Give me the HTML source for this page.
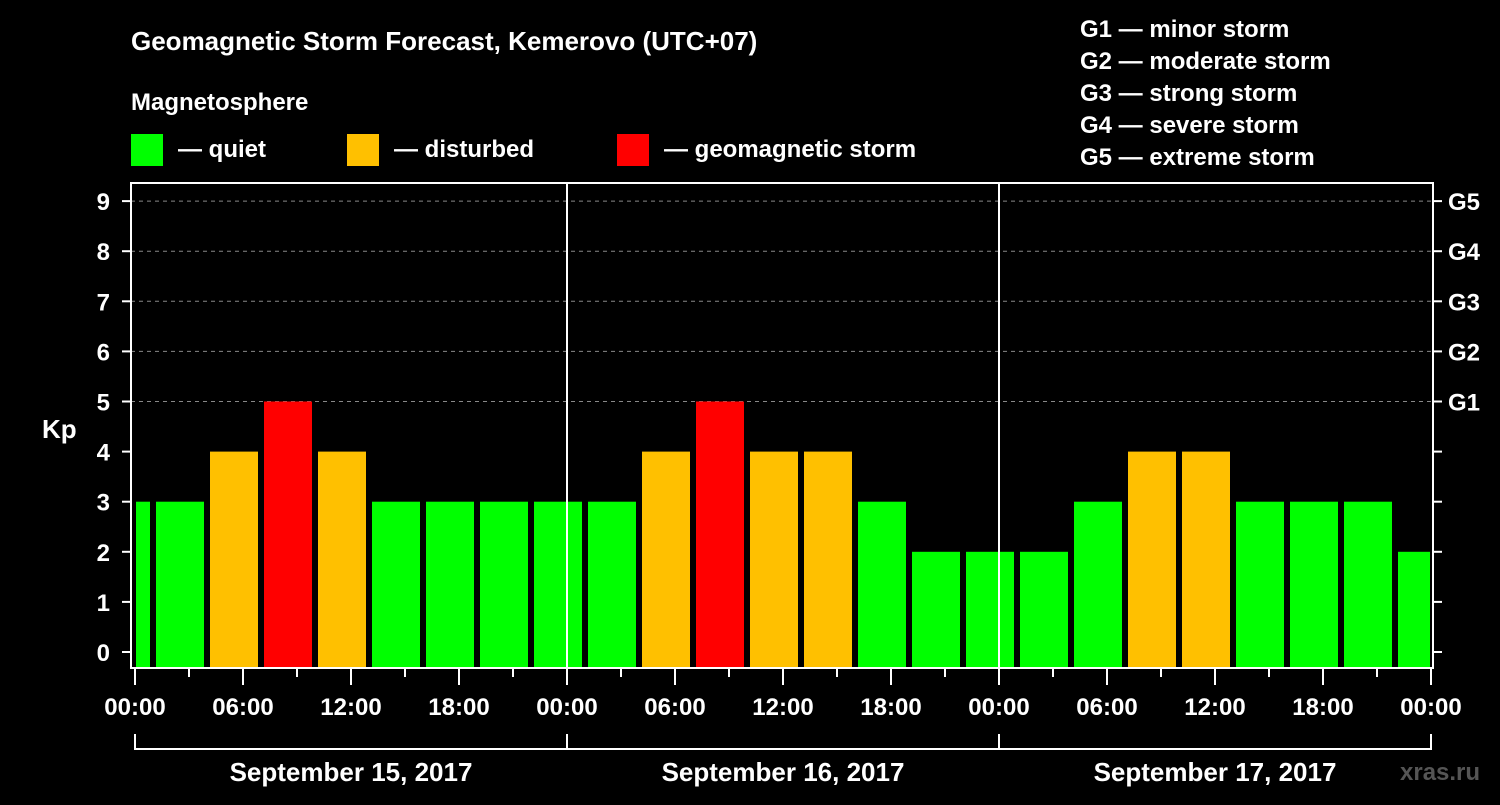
<!DOCTYPE html>
<html><head><meta charset="utf-8"><style>
body{margin:0;background:#000;}
svg text{font-family:"Liberation Sans",sans-serif;font-weight:bold;fill:#fff;}
</style></head><body>
<svg id="chart" width="1500" height="800" xmlns="http://www.w3.org/2000/svg">
<rect width="1500" height="800" fill="#000"/>
<text x="131" y="50" font-size="26">Geomagnetic Storm Forecast, Kemerovo (UTC+07)</text>
<text x="131" y="110" font-size="24">Magnetosphere</text>
<g>
<rect x="131" y="134" width="32" height="32" fill="#00ff00"/>
<text x="178" y="157" font-size="24">— quiet</text>
<rect x="347" y="134" width="32" height="32" fill="#ffc000"/>
<text x="394" y="157" font-size="24">— disturbed</text>
<rect x="617" y="134" width="32" height="32" fill="#ff0000"/>
<text x="664" y="157" font-size="24">— geomagnetic storm</text>
</g>
<g font-size="24">
<text x="1080" y="37">G1 — minor storm</text>
<text x="1080" y="69">G2 — moderate storm</text>
<text x="1080" y="101">G3 — strong storm</text>
<text x="1080" y="133">G4 — severe storm</text>
<text x="1080" y="165">G5 — extreme storm</text>
</g>
<text x="42" y="438" font-size="26">Kp</text>
<text x="1400" y="780" font-size="24" fill="#555" style="fill:#555">xras.ru</text>
<g id="plot"></g>
</svg>
<script>
const kpValues=[3,3,4,5,4,3,3,3,3,3,4,5,4,4,3,2,2,2,3,4,4,3,3,3,2];
const startHour=-2;
const stepHours=3;
const yTicks=[0,1,2,3,4,5,6,7,8,9];
const gLabels=['G1','G2','G3','G4','G5'];
const gLevels=[5,6,7,8,9];
const xTickLabels=['00:00','06:00','12:00','18:00','00:00','06:00','12:00','18:00','00:00','06:00','12:00','18:00','00:00'];
const dateLabels=['September 15, 2017','September 16, 2017','September 17, 2017'];

const X0=135,PXH=18,L=131,R=1433,T=183,B=668;
const xs=h=>X0+h*PXH;
const ys=v=>652-v*50.1;
const NS='http://www.w3.org/2000/svg';
const plot=document.getElementById('plot');
function mk(tag,attrs,parent){const e=document.createElementNS(NS,tag);for(const k in attrs)e.setAttribute(k,attrs[k]);(parent||plot).appendChild(e);return e;}

// gridlines
yTicks.forEach(v=>{
 if(v>=5){const g=mk('line',{x1:L,x2:R,y1:ys(v),y2:ys(v),stroke:'#888','stroke-dasharray':'4,4','stroke-width':1});
 
 }
 const t=mk('line',{x1:122,x2:L,y1:ys(v),y2:ys(v),stroke:'#fff','stroke-width':2});
 
 
 const rt=mk('line',{x1:R,x2:1442,y1:ys(v),y2:ys(v),stroke:'#fff','stroke-width':2});
 
 
 const lb=mk('text',{x:110,y:ys(v)+9,'font-size':24,'text-anchor':'end'});lb.textContent=v;
 
 
});
gLevels.forEach((v,i)=>{const t=mk('text',{x:1448,y:ys(v)+9,'font-size':24});t.textContent=gLabels[i];
 
 });

// bars
kpValues.forEach((v,i)=>{
 const h0=startHour+i*stepHours;
 let x1=xs(h0)+3,x2=xs(h0+stepHours)-3;
 x1=Math.max(x1,X0+1);x2=Math.min(x2,R-3);
 const c=v>=5?'#ff0000':(v>=4?'#ffc000':'#00ff00');
 const b=mk('rect',{x:x1,y:ys(v),width:x2-x1,height:B-ys(v),fill:c});
 
 
});

// day separators
[1,2].forEach(d=>{const l=mk('line',{x1:xs(24*d),x2:xs(24*d),y1:T,y2:B,stroke:'#fff','stroke-width':2});
 
 });

// frame
const fr=mk('rect',{x:L,y:T,width:R-L,height:B-T,fill:'none',stroke:'#fff','stroke-width':2});



// x ticks
for(let h=0;h<=72;h+=3){
 const major=h%6===0;
 const t=mk('line',{x1:xs(h),x2:xs(h),y1:B,y2:major?685:677,stroke:'#fff','stroke-width':2});
 
 
}
xTickLabels.forEach((s,i)=>{const t=mk('text',{x:xs(i*6),y:715,'font-size':24,'text-anchor':'middle'});t.textContent=s;
 
 });
// date brackets
const br=mk('path',{d:`M${xs(0)} 734V749H${xs(72)}V734 M${xs(24)} 734V749 M${xs(48)} 734V749`,stroke:'#fff','stroke-width':2,fill:'none'});


dateLabels.forEach((s,i)=>{const t=mk('text',{x:xs(24*i+12),y:781,'font-size':26,'text-anchor':'middle'});t.textContent=s;
 
 });
</script>
</body></html>
